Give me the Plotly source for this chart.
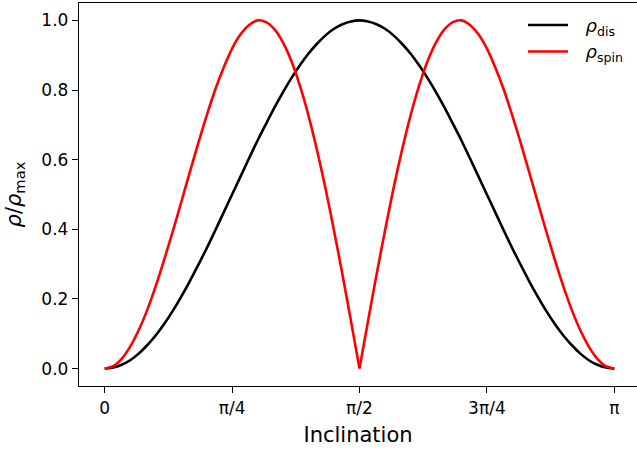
import numpy as np
import plotly.graph_objects as go

# Inclination samples (degrees, every 3 deg from 0 to 180)
inclination_deg = list(range(0, 181, 3))

# Normalised dissipative density rho_dis / rho_max
rho_dis = [
    0.000, 0.003, 0.011, 0.024, 0.043, 0.067, 0.095, 0.128, 0.165, 0.206,
    0.250, 0.297, 0.345, 0.396, 0.448, 0.500, 0.552, 0.604, 0.655, 0.703,
    0.750, 0.794, 0.835, 0.872, 0.905, 0.933, 0.957, 0.976, 0.989, 0.997,
    1.000,
    0.997, 0.989, 0.976, 0.957, 0.933, 0.905, 0.872, 0.835, 0.794, 0.750,
    0.703, 0.655, 0.604, 0.552, 0.500, 0.448, 0.396, 0.345, 0.297, 0.250,
    0.206, 0.165, 0.128, 0.095, 0.067, 0.043, 0.024, 0.011, 0.003, 0.000,
]

# Normalised spin density rho_spin / rho_max
rho_spin = [
    0.000, 0.007, 0.028, 0.063, 0.110, 0.168, 0.236, 0.312, 0.393, 0.477,
    0.562, 0.646, 0.726, 0.800, 0.864, 0.919, 0.960, 0.987, 1.000, 0.995,
    0.974, 0.936, 0.882, 0.811, 0.726, 0.627, 0.517, 0.396, 0.269, 0.136,
    0.000,
    0.136, 0.269, 0.396, 0.517, 0.627, 0.726, 0.811, 0.882, 0.936, 0.974,
    0.995, 1.000, 0.987, 0.960, 0.919, 0.864, 0.800, 0.726, 0.646, 0.562,
    0.477, 0.393, 0.312, 0.236, 0.168, 0.110, 0.063, 0.028, 0.007, 0.000,
]

tick_vals = [0, np.pi / 4, np.pi / 2, 3 * np.pi / 4, np.pi]
tick_text = ["0", "π/4", "π/2", "3π/4", "π"]

x = np.deg2rad(inclination_deg)
mid = inclination_deg.index(90)

FONT = "DejaVu Sans"
LW = 2.6
GAP = "\u2002\u2009"  # extra space between legend line and label

fig = go.Figure()
fig.add_trace(go.Scatter(
    x=x, y=rho_dis, mode="lines",
    line=dict(color="black", width=LW, shape="spline", smoothing=0.8),
    name=GAP + "<i>ρ</i><sub>dis</sub>",
))
# The spin curve has a cusp at pi/2, so each side is smoothed separately
fig.add_trace(go.Scatter(
    x=x[:mid + 1], y=rho_spin[:mid + 1], mode="lines",
    line=dict(color="#ff0000", width=LW, shape="spline", smoothing=0.8),
    name=GAP + "<i>ρ</i><sub>spin</sub>", legendgroup="spin",
))
fig.add_trace(go.Scatter(
    x=x[mid:], y=rho_spin[mid:], mode="lines",
    line=dict(color="#ff0000", width=LW, shape="spline", smoothing=0.8),
    name=GAP + "<i>ρ</i><sub>spin</sub>", legendgroup="spin", showlegend=False,
))

fig.update_layout(
    width=637, height=451,
    margin=dict(l=79, r=0, t=3, b=65),
    paper_bgcolor="white", plot_bgcolor="white",
    font=dict(family=FONT, size=17, color="black"),
    showlegend=True,
    legend=dict(
        x=(529 - 79 - 6) / 558, y=0.990, xanchor="left", yanchor="top",
        bgcolor="rgba(255,255,255,0)", borderwidth=0,
        font=dict(family=FONT, size=18),
        tracegroupgap=0, itemwidth=40,
    ),
    xaxis=dict(
        range=[-0.0504 * np.pi, 1.0445 * np.pi],
        tickmode="array", tickvals=tick_vals, ticktext=tick_text,
        ticks="outside", ticklen=6, tickwidth=1.4, tickcolor="black",
        showline=True, linecolor="black", linewidth=1.4, mirror=True,
        showgrid=False, zeroline=False,
        title=dict(text="Inclination", font=dict(family=FONT, size=21), standoff=10),
        tickfont=dict(family=FONT, size=17),
    ),
    yaxis=dict(
        range=[-0.05, 1.05],
        tickmode="array", tickvals=[0, 0.2, 0.4, 0.6, 0.8, 1.0],
        ticktext=["0.0", "0.2", "0.4", "0.6", "0.8", "1.0"],
        ticks="outside", ticklen=6, tickwidth=1.4, tickcolor="black",
        showline=True, linecolor="black", linewidth=1.4, mirror=False,
        showgrid=False, zeroline=False,
        title=dict(text="<i>ρ</i>/<i>ρ</i><sub>max</sub>", font=dict(family=FONT, size=21), standoff=14),
        tickfont=dict(family=FONT, size=17),
    ),
)

fig.write_html("out.html")
